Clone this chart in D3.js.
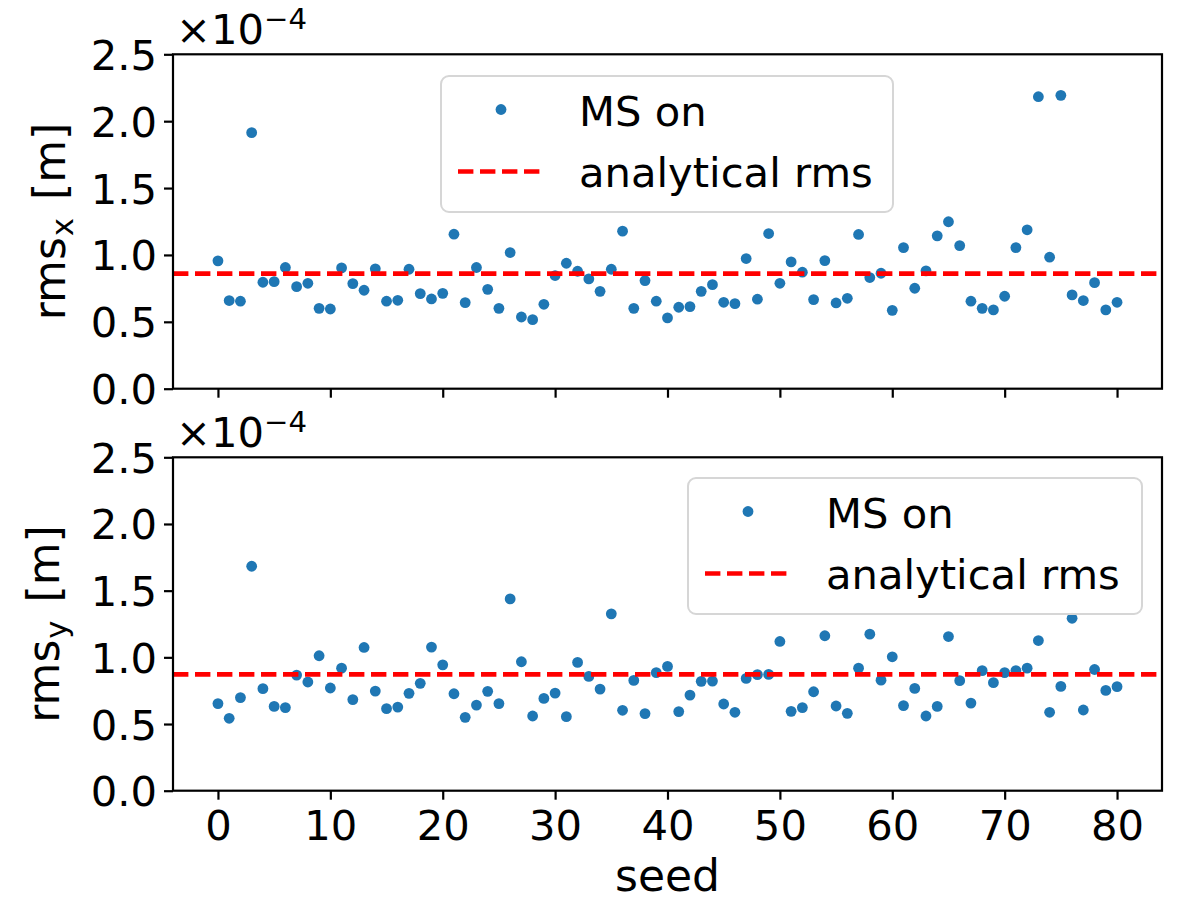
<!DOCTYPE html>
<html>
<head>
<meta charset="utf-8">
<title>rms per seed</title>
<script src="https://cdn.jsdelivr.net/npm/d3@7"></script>
<style>
  body { margin: 0; background: #fff; }
  svg text { font-family: "DejaVu Sans", sans-serif; fill: #000; }
  .axis path, .axis line { stroke: #000; stroke-width: 2.2; }
  .axis text { font-size: 41.7px; }
</style>
</head>
<body>
<div id="chart"></div>
<script>
// values in units of 1e-4 m
var seeds = d3.range(81);
var rmsX = [0.956, 0.659, 0.654, 1.914, 0.796, 0.800, 0.906, 0.763, 0.788, 0.601,
  0.596, 0.903, 0.786, 0.736, 0.896, 0.654, 0.661, 0.893, 0.711, 0.671,
  0.713, 1.155, 0.644, 0.906, 0.743, 0.601, 1.018, 0.536, 0.516, 0.631,
  0.846, 0.938, 0.878, 0.821, 0.728, 0.893, 1.178, 0.601, 0.808, 0.654,
  0.529, 0.609, 0.614, 0.728, 0.778, 0.646, 0.636, 0.973, 0.669, 1.160,
  0.788, 0.948, 0.871, 0.666, 0.958, 0.641, 0.676, 1.153, 0.831, 0.863,
  0.586, 1.055, 0.751, 0.881, 1.143, 1.248, 1.070, 0.654, 0.601, 0.589,
  0.691, 1.055, 1.188, 2.183, 0.983, 2.193, 0.701, 0.659, 0.793, 0.589,
  0.646];
var rmsY = [0.653, 0.543, 0.698, 1.683, 0.765, 0.632, 0.623, 0.867, 0.815, 1.012,
  0.770, 0.919, 0.683, 1.074, 0.747, 0.615, 0.627, 0.730, 0.805, 1.077,
  0.944, 0.727, 0.550, 0.642, 0.745, 0.653, 1.438, 0.967, 0.560, 0.692,
  0.732, 0.555, 0.962, 0.857, 0.762, 1.326, 0.603, 0.827, 0.578, 0.885,
  0.932, 0.593, 0.717, 0.820, 0.822, 0.650, 0.588, 0.842, 0.870, 0.872,
  1.119, 0.595, 0.623, 0.742, 1.162, 0.635, 0.580, 0.919, 1.174, 0.829,
  1.004, 0.638, 0.767, 0.560, 0.632, 1.156, 0.825, 0.657, 0.900, 0.810,
  0.885, 0.900, 0.919, 1.126, 0.588, 0.782, 1.293, 0.605, 0.909, 0.752,
  0.780];
var analytical = [0.860, 0.872];
var yTicks = [0, 0.5, 1.0, 1.5, 2.0, 2.5];
var xTicks = [0, 10, 20, 30, 40, 50, 60, 70, 80];
var legendLabels = ['MS on', 'analytical rms'];

var width = 1178, height = 904;
var left = 173, right = 1162;
var fs = 41.7;
var blue = '#1f77b4';

var svg = d3.select('#chart').append('svg')
  .attr('width', width)
  .attr('height', height);

var x = d3.scaleLinear().domain([-4, 84]).range([left, right]);

var panels = [
  { data: rmsX, line: analytical[0], top: 54.3, bottom: 388.7, sub: 'x', labelX: 65,
    legend: { x: 441, y: 76, w: 452, h: 136, mx: 501, tx: 579, l0: 458, l1: 543 } },
  { data: rmsY, line: analytical[1], top: 457.3, bottom: 790.7, sub: 'y', labelX: 59,
    legend: { x: 688, y: 478, w: 454, h: 136, mx: 748, tx: 826, l0: 705, l1: 792 } }
];

panels.forEach(function (p, pi) {
  var y = d3.scaleLinear().domain([0, 2.5]).range([p.bottom, p.top]);
  var g = svg.append('g');

  // y axis
  g.append('g')
    .attr('class', 'axis')
    .attr('transform', 'translate(' + left + ',0)')
    .call(d3.axisLeft(y).tickValues(yTicks).tickFormat(d3.format('.1f'))
      .tickSize(9).tickPadding(7).tickSizeOuter(0))
    .call(function (a) { a.select('.domain').remove(); a.selectAll('text').attr('dy', '0.36em'); });

  // x axis (labels only on the lower panel)
  var xa = d3.axisBottom(x).tickValues(xTicks).tickSize(9).tickPadding(9).tickSizeOuter(0);
  if (pi === 0) xa.tickFormat('');
  g.append('g')
    .attr('class', 'axis')
    .attr('transform', 'translate(0,' + p.bottom + ')')
    .call(xa)
    .call(function (a) { a.select('.domain').remove(); a.selectAll('text').attr('dy', '0.76em'); });

  // data points
  g.append('g').selectAll('circle')
    .data(p.data)
    .enter().append('circle')
    .attr('cx', function (d, i) { return x(seeds[i]); })
    .attr('cy', function (d) { return y(d); })
    .attr('r', 5.4)
    .attr('fill', blue);

  // analytical line
  g.append('line')
    .attr('x1', left).attr('x2', right)
    .attr('y1', y(p.line)).attr('y2', y(p.line))
    .attr('stroke', '#ff0000')
    .attr('stroke-width', 4.6)
    .attr('stroke-dasharray', '15.4,6.6');

  // frame
  g.append('rect')
    .attr('x', left).attr('y', p.top)
    .attr('width', right - left).attr('height', p.bottom - p.top)
    .attr('fill', 'none').attr('stroke', '#000').attr('stroke-width', 2.2);

  // offset text
  var off = g.append('text')
    .attr('x', 176).attr('y', p.top - 10)
    .attr('font-size', fs);
  off.append('tspan').text('\u00d710');
  off.append('tspan').attr('font-size', fs * 0.7).attr('dy', -15).text('\u22124');

  // y label
  var lfs = 44;
  var yl = g.append('text')
    .attr('transform', 'translate(' + p.labelX + ',' + ((p.top + p.bottom) / 2) + ') rotate(-90)')
    .attr('text-anchor', 'middle')
    .attr('font-size', lfs);
  yl.append('tspan').text('rms');
  yl.append('tspan').attr('font-size', lfs * 0.7).attr('dy', 8).attr('dx', 1).text(p.sub);
  yl.append('tspan').attr('dy', -8).attr('dx', 4).text(' [m]');

  // legend
  var L = p.legend;
  var lg = g.append('g');
  lg.append('rect')
    .attr('x', L.x).attr('y', L.y).attr('width', L.w).attr('height', L.h)
    .attr('rx', 8).attr('ry', 8)
    .attr('fill', 'rgba(255,255,255,0.8)')
    .attr('stroke', '#d6d6d6').attr('stroke-width', 2);
  var r1 = L.y + 33.5, r2 = L.y + 95.5;
  lg.append('circle').attr('cx', L.mx).attr('cy', r1).attr('r', 5.4).attr('fill', blue);
  lg.append('line')
    .attr('x1', L.l0).attr('x2', L.l1).attr('y1', r2).attr('y2', r2)
    .attr('stroke', '#ff0000').attr('stroke-width', 4.6)
    .attr('stroke-dasharray', '15.4,6.6');
  lg.append('text').attr('x', L.tx).attr('y', r1 + 16).attr('font-size', fs).text(legendLabels[0]);
  lg.append('text').attr('x', L.tx).attr('y', r2 + 15.5).attr('font-size', fs).text(legendLabels[1]);
});

// x label
svg.append('text')
  .attr('x', (left + right) / 2)
  .attr('y', 891)
  .attr('text-anchor', 'middle')
  .attr('font-size', 44)
  .text('seed');
</script>
</body>
</html>
